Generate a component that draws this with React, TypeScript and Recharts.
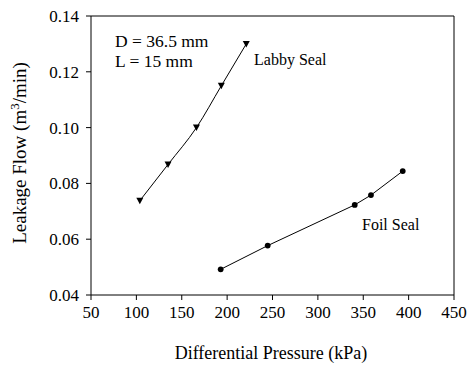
import {
  Line,
  LineChart,
  ReferenceLine,
  XAxis,
  YAxis,
} from 'recharts'

const labbyPressure = [103.8, 134.9, 166.2, 193.6, 221.1]
const labbyFlow = [0.0738, 0.0868, 0.1, 0.115, 0.13]
const foilPressure = [192.9, 244.7, 340.6, 358.5, 393.5]
const foilFlow = [0.0492, 0.0577, 0.0723, 0.0758, 0.0844]
const xTicks = [50, 100, 150, 200, 250, 300, 350, 400, 450]
const yTicks = [0.04, 0.06, 0.08, 0.1, 0.12, 0.14]

const font = '"Liberation Serif", "Times New Roman", serif'

const Triangle = (props: any) => {
  const { cx, cy } = props
  if (cx == null || cy == null) return null
  return (
    <path
      d={`M${cx - 3.5},${cy - 3} L${cx + 3.5},${cy - 3} L${cx},${cy + 3.5} Z`}
      fill="#000"
    />
  )
}

const Circle = (props: any) => {
  const { cx, cy } = props
  if (cx == null || cy == null) return null
  return <circle cx={cx} cy={cy} r={2.9} fill="#000" />
}

const YTitle = () => (
  <text
    x={26}
    y={153}
    transform="rotate(-90, 26, 153)"
    textAnchor="middle"
    fontFamily={font}
    fontSize={19}
    fill="#000"
  >
    Leakage Flow (m
    <tspan dy={-7} fontSize={13}>3</tspan>
    <tspan dy={7}>/min)</tspan>
  </text>
)

const XTitle = () => (
  <text
    x={271}
    y={359}
    textAnchor="middle"
    fontFamily={font}
    fontSize={18}
    fill="#000"
  >
    Differential Pressure (kPa)
  </text>
)

const App = () => {
  const labby = labbyPressure.map((p, i) => ({ p, q: labbyFlow[i] }))
  const foil = foilPressure.map((p, i) => ({ p, q: foilFlow[i] }))
  const note = { position: 'absolute' as const, fontFamily: font, color: '#000', whiteSpace: 'nowrap' as const }

  return (
    <div style={{ position: 'absolute', left: 0, top: 0, width: 469, height: 368, background: '#fff' }}>
      <LineChart width={469} height={368} margin={{ top: 16, right: 15, bottom: 0, left: 0 }}>
        <XAxis
          type="number"
          dataKey="p"
          domain={[50, 450]}
          ticks={xTicks}
          height={73}
          stroke="#000"
          tickSize={5}
          tickMargin={6}
          tick={{ fill: '#000', fontSize: 17, fontFamily: font }}
          label={<XTitle />}
        />
        <YAxis
          type="number"
          dataKey="q"
          domain={[0.04, 0.14]}
          ticks={yTicks}
          width={91}
          stroke="#000"
          tickSize={5}
          tickMargin={7}
          tickFormatter={(v: number) => v.toFixed(2)}
          tick={{ fill: '#000', fontSize: 17, fontFamily: font }}
          label={<YTitle />}
        />
        <ReferenceLine y={0.14} stroke="#000" />
        <ReferenceLine x={450} stroke="#000" />
        <Line
          data={labby}
          dataKey="q"
          type="monotone"
          stroke="#000"
          strokeWidth={1}
          dot={<Triangle />}
          isAnimationActive={false}
        />
        <Line
          data={foil}
          dataKey="q"
          type="linear"
          stroke="#000"
          strokeWidth={1}
          dot={<Circle />}
          isAnimationActive={false}
        />
      </LineChart>
      <div style={{ ...note, left: 115, top: 31, fontSize: 17.5, lineHeight: '20px' }}>
        D = 36.5 mm
        <br />
        L = 15 mm
      </div>
      <div style={{ ...note, left: 254, top: 50, fontSize: 16, lineHeight: '20px' }}>Labby Seal</div>
      <div style={{ ...note, left: 362, top: 215, fontSize: 16, lineHeight: '20px' }}>Foil Seal</div>
    </div>
  )
}

export default App
